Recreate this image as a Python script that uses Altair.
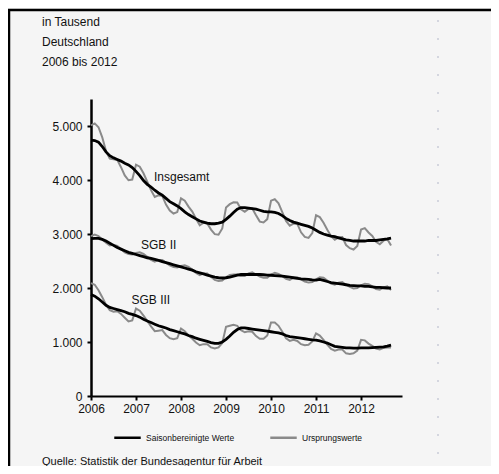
import altair as alt
import pandas as pd

# ---------------- data (thousands, monthly Jan 2006 .. Sep 2012) ----------------
start_year = 2006

orig_ins = [5012, 5048, 4977, 4790, 4535, 4398, 4386, 4372, 4237, 4084, 3995, 4008,
            4284, 4247, 4124, 3968, 3812, 3687, 3715, 3706, 3544, 3434, 3379, 3406,
            3659, 3617, 3507, 3414, 3283, 3160, 3210, 3196, 3081, 2997, 2988, 3102,
            3489, 3552, 3586, 3585, 3458, 3410, 3462, 3471, 3346, 3229, 3215, 3276,
            3617, 3643, 3568, 3406, 3242, 3153, 3192, 3188, 3031, 2945, 2927, 3016,
            3346, 3313, 3210, 3078, 2960, 2893, 2939, 2945, 2796, 2737, 2713, 2780,
            3084, 3110, 3028, 2963, 2855, 2809, 2876, 2905, 2788]
sa_ins = [4740, 4730, 4700, 4620, 4520, 4450, 4410, 4380, 4350, 4310, 4280, 4230,
          4160, 4080, 3990, 3920, 3870, 3810, 3760, 3720, 3660, 3600, 3560, 3520,
          3470, 3410, 3360, 3320, 3280, 3240, 3220, 3200, 3190, 3190, 3200, 3220,
          3270, 3330, 3400, 3460, 3490, 3490, 3480, 3470, 3460, 3440, 3420, 3410,
          3410, 3400, 3380, 3340, 3290, 3250, 3220, 3200, 3180, 3160, 3140, 3110,
          3070, 3030, 3000, 2980, 2960, 2950, 2930, 2910, 2890, 2880, 2870, 2870,
          2870, 2870, 2880, 2880, 2880, 2890, 2900, 2910, 2925]
orig_sgb2 = [2960, 2990, 2960, 2900, 2840, 2790, 2800, 2780, 2720, 2660, 2630, 2620,
             2650, 2660, 2630, 2580, 2520, 2490, 2520, 2520, 2470, 2420, 2390, 2380,
             2410, 2420, 2390, 2340, 2280, 2240, 2270, 2270, 2210, 2150, 2130, 2140,
             2200, 2240, 2250, 2250, 2220, 2220, 2270, 2290, 2250, 2210, 2190, 2190,
             2250, 2280, 2260, 2220, 2170, 2150, 2190, 2200, 2160, 2120, 2100, 2110,
             2160, 2200, 2190, 2140, 2080, 2060, 2100, 2110, 2060, 2020, 1990, 2000,
             2050, 2080, 2070, 2030, 1980, 1970, 2010, 2030, 1960]
sa_sgb2 = [2915, 2920, 2920, 2900, 2870, 2830, 2790, 2750, 2720, 2690, 2660, 2640,
           2620, 2600, 2580, 2560, 2550, 2530, 2510, 2490, 2470, 2450, 2430, 2410,
           2390, 2370, 2350, 2330, 2300, 2280, 2260, 2240, 2220, 2200, 2190, 2185,
           2190, 2200, 2220, 2240, 2250, 2250, 2250, 2250, 2250, 2250, 2245, 2240,
           2236, 2230, 2225, 2220, 2210, 2200, 2190, 2180, 2170, 2165, 2160, 2150,
           2145, 2160, 2140, 2120, 2100, 2090, 2080, 2070, 2060, 2050, 2045, 2040,
           2040, 2030, 2030, 2020, 2010, 2010, 2005, 2000, 2000]
orig_sgb3 = [2090, 2060, 1960, 1830, 1690, 1590, 1560, 1570, 1520, 1450, 1380, 1400,
             1620, 1580, 1490, 1390, 1290, 1200, 1210, 1220, 1130, 1070, 1050, 1070,
             1250, 1200, 1120, 1060, 990, 940, 960, 960, 900, 880, 900, 980,
             1280, 1300, 1320, 1300, 1220, 1180, 1200, 1190, 1110, 1060, 1060, 1120,
             1360, 1360, 1300, 1190, 1070, 1020, 1040, 1020, 960, 940, 950, 1010,
             1160, 1120, 1040, 950, 870, 840, 860, 860, 790, 780, 790, 840,
             1040, 1030, 970, 930, 880, 860, 890, 900, 900]
sa_sgb3 = [1880, 1850, 1800, 1740, 1680, 1640, 1620, 1600, 1580, 1560, 1530, 1510,
           1490, 1460, 1420, 1390, 1360, 1330, 1300, 1280, 1260, 1230, 1210, 1190,
           1170, 1150, 1120, 1100, 1070, 1050, 1030, 1010, 990, 975, 975, 1000,
           1050, 1110, 1180, 1230, 1260, 1260, 1250, 1240, 1230, 1220, 1210, 1200,
           1190, 1180, 1170, 1150, 1120, 1100, 1090, 1080, 1070, 1060, 1050, 1040,
           1035, 1020, 1000, 980, 950, 920, 910, 900, 890, 890, 885, 885,
           890, 890, 890, 895, 900, 905, 910, 925, 943]

series_names = ["Insgesamt", "SGB II", "SGB III"]
type_names = ["Saisonbereinigte Werte", "Ursprungswerte"]

label_x = [2007.40, 2007.11, 2006.90]
label_y = [4054, 2791, 1775]

year_ticks = [2006, 2007, 2008, 2009, 2010, 2011, 2012]
value_ticks = [0, 1000, 2000, 3000, 4000, 5000]

header_lines = ["in Tausend", "Deutschland", "2006 bis 2012"]
source_text = "Quelle: Statistik der Bundesagentur für Arbeit"

# ---------------- table ----------------
rows = []
for name, orig, sa in zip(series_names, [orig_ins, orig_sgb2, orig_sgb3],
                          [sa_ins, sa_sgb2, sa_sgb3]):
    for i, (o, s) in enumerate(zip(orig, sa)):
        t = start_year + i / 12
        rows.append({"t": t, "value": o, "series": name, "typ": type_names[1]})
        rows.append({"t": t, "value": s, "series": name, "typ": type_names[0]})
df = pd.DataFrame(rows)

FONT = "Liberation Sans"
TXT = "#111111"
BG = "#f5f5f5"

xscale = alt.Scale(domain=[2006, 2012.91], nice=False, zero=False)
yscale = alt.Scale(domain=[0, 5500], nice=False, zero=True)

x_enc = alt.X("t:Q", scale=xscale,
              axis=alt.Axis(values=year_ticks, format="d", title=None, grid=False,
                            labelFontSize=12, labelColor=TXT, labelFont=FONT,
                            tickSize=4, tickWidth=2, tickColor="black",
                            domainColor="black", domainWidth=2, labelPadding=3,
                            labelFlush=False))
y_enc = alt.Y("value:Q", scale=yscale,
              axis=alt.Axis(values=value_ticks, title=None, grid=False,
                            labelExpr="replace(format(datum.value, ','), ',', '.')",
                            labelFontSize=12, labelColor=TXT, labelFont=FONT,
                            tickSize=4, tickWidth=2, tickColor="black",
                            domainColor="black", domainWidth=2.5, labelPadding=5))
color_enc = alt.Color("typ:N",
                      scale=alt.Scale(domain=type_names, range=["#000000", "#8a8a8a"]),
                      legend=alt.Legend(title=None, orient="none", legendX=22, legendY=324,
                                        direction="horizontal", symbolType="stroke",
                                        symbolSize=700, symbolStrokeWidth=2.5,
                                        labelFontSize=8.5, labelFont=FONT, labelColor=TXT,
                                        labelOffset=4, columnPadding=30, padding=0))

base = alt.Chart(df).encode(x=x_enc, y=y_enc, color=color_enc, detail="series:N")
orig_layer = base.transform_filter(alt.datum.typ == type_names[1]).mark_line(strokeWidth=2)
sa_layer = base.transform_filter(alt.datum.typ == type_names[0]).mark_line(strokeWidth=2.8)

ann = alt.Chart(pd.DataFrame({"t": label_x, "value": label_y, "label": series_names})).mark_text(
    align="left", baseline="middle", fontSize=12, font=FONT, color=TXT
).encode(x=alt.X("t:Q", scale=xscale), y=alt.Y("value:Q", scale=yscale), text="label:N")

one = pd.DataFrame({"k": [0]})

def text_at(txt, x, y, size):
    return alt.Chart(pd.DataFrame({"txt": [txt]})).mark_text(
        align="left", baseline="middle", fontSize=size, font=FONT, color=TXT
    ).encode(text="txt:N", x=alt.value(x), y=alt.value(y))

headers = [text_at(h, -49, -77 + 20 * i, 12) for i, h in enumerate(header_lines)]
footer = text_at(source_text, -49, 363, 11)

frame_top = alt.Chart(one).mark_rule(color="black", strokeWidth=2.5).encode(
    x=alt.value(-84), x2=alt.value(420), y=alt.value(-89))
frame_left = alt.Chart(one).mark_rule(color="black", strokeWidth=2.5).encode(
    x=alt.value(-82), y=alt.value(-90), y2=alt.value(380))
dotted = alt.Chart(one).mark_rule(color="#c9ccd8", strokeWidth=1.5, strokeDash=[2, 16]).encode(
    x=alt.value(347), y=alt.value(-79), y2=alt.value(380))

chart = alt.layer(
    frame_top, frame_left, dotted, orig_layer, sa_layer, ann, *headers, footer
).properties(
    width=311, height=297,
    padding={"left": 83, "top": 91, "right": 89, "bottom": 70},
    autosize=alt.AutoSizeParams(type="none"),
    background=BG,
    view=alt.ViewBackground(stroke="transparent", strokeWidth=0, fill=BG),
).configure_view(stroke="transparent", strokeWidth=0, fill=BG).configure(font=FONT)

chart.save("out.html", embed_options={"renderer": "svg", "actions": False})
